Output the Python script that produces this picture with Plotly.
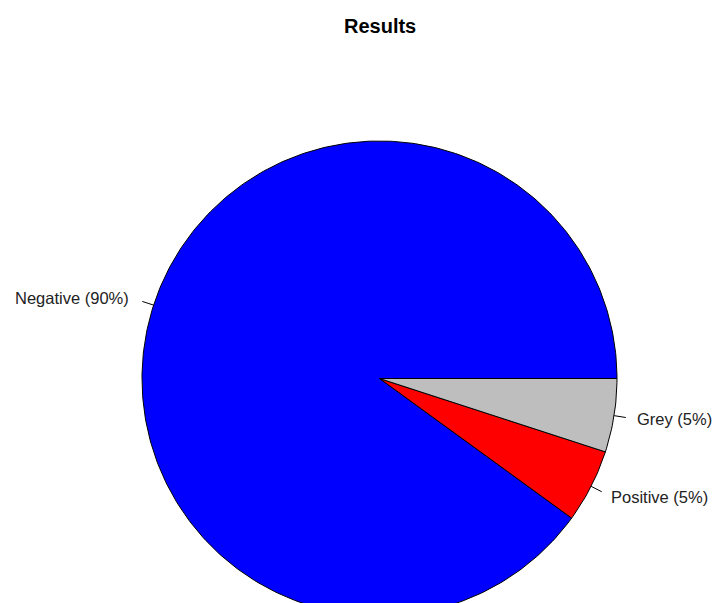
import numpy as np
import plotly.graph_objects as go

# Share of results by category (drawn counter-clockwise from 3 o'clock)
categories = ["Negative", "Positive", "Grey"]
percentages = [90, 5, 5]
slice_colors = ["#0000FF", "#FF0000", "#BEBEBE"]

labels = [f"{c} ({p}%)" for c, p in zip(categories, percentages)]

fig = go.Figure()

total = float(sum(percentages))
bounds = np.concatenate([[0.0], np.cumsum(percentages) / total])

for i, lab in enumerate(labels):
    a0, a1 = 2 * np.pi * bounds[i], 2 * np.pi * bounds[i + 1]
    n = max(4, int(400 * (bounds[i + 1] - bounds[i])))
    t = np.linspace(a0, a1, n)
    xs = np.concatenate([[0.0], np.cos(t), [0.0]])
    ys = np.concatenate([[0.0], np.sin(t), [0.0]])
    fig.add_trace(go.Scatter(
        x=xs, y=ys, mode="lines", fill="toself",
        fillcolor=slice_colors[i],
        line=dict(color="black", width=1),
        hoverinfo="text", text=lab, showlegend=False,
    ))

    # leader tick and label at the slice's mid angle
    mid = (a0 + a1) / 2
    cx, cy = np.cos(mid), np.sin(mid)
    fig.add_trace(go.Scatter(
        x=[cx, 1.05 * cx], y=[cy, 1.05 * cy], mode="lines",
        line=dict(color="black", width=1), hoverinfo="skip", showlegend=False,
    ))
    right_side = cx > 0
    fig.add_annotation(
        x=1.1 * cx, y=1.1 * cy, text=lab, showarrow=False,
        xanchor="left" if right_side else "right", yanchor="middle",
        xshift=-3 if right_side else 0,
        font=dict(family="Liberation Sans, Arial, sans-serif", size=16.5, color="#222222"),
    )

W, H = 714, 603
cx_px, cy_px, r_px = 379.5, 378.5, 237.5

fig.add_annotation(
    x=0, xref="x", y=(cy_px - 26) / r_px, yref="y",
    text="<b>Results</b>", showarrow=False,
    xanchor="center", yanchor="middle",
    font=dict(family="Liberation Sans, Arial, sans-serif", size=20, color="black"),
)

fig.update_layout(
    width=W, height=H,
    margin=dict(l=0, r=0, t=0, b=0),
    paper_bgcolor="white", plot_bgcolor="white",
    xaxis=dict(range=[-cx_px / r_px, (W - cx_px) / r_px], visible=False, fixedrange=True),
    yaxis=dict(range=[(cy_px - H) / r_px, cy_px / r_px], visible=False, fixedrange=True),
)

fig.write_html("out.html")
